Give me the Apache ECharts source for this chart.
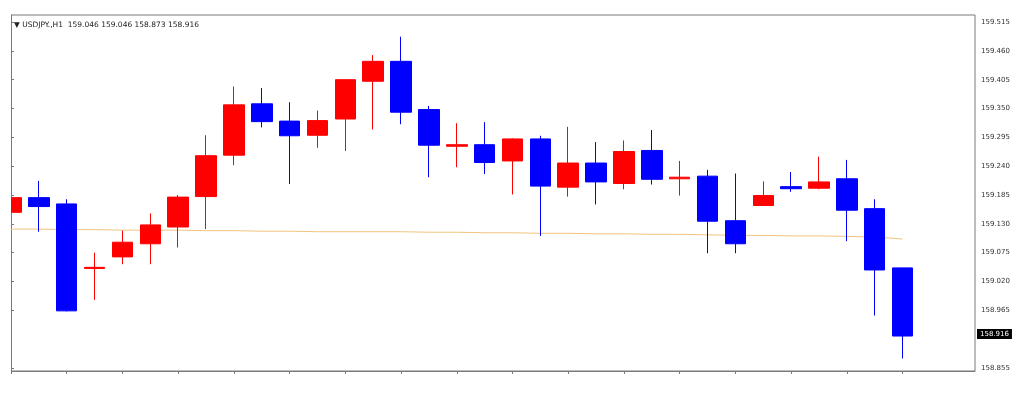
<!DOCTYPE html>
<html>
<head>
<meta charset="utf-8">
<script src="https://cdn.jsdelivr.net/npm/echarts@6/dist/echarts.min.js"></script>
<style>
html,body{margin:0;padding:0;background:#fff;}
#chart{width:1024px;height:402px;}
</style>
</head>
<body>
<div id="chart"></div>
<script>
// H1 candles, index 0..32
const opens  = [159.152,159.180,159.168,159.045,159.067,159.092,159.124,159.182,159.261,159.359,159.326,159.299,159.330,159.402,159.440,159.348,159.278,159.281,159.250,159.292,159.200,159.246,159.207,159.270,159.216,159.221,159.136,159.165,159.201,159.198,159.216,159.159,159.046];
const closes = [159.180,159.163,158.964,159.047,159.095,159.128,159.181,159.260,159.357,159.325,159.298,159.327,159.405,159.440,159.343,159.280,159.281,159.247,159.292,159.202,159.246,159.210,159.268,159.215,159.219,159.135,159.092,159.184,159.197,159.210,159.156,159.042,158.916];
const lows   = [159.130,159.115,158.963,158.985,159.053,159.053,159.085,159.120,159.242,159.314,159.206,159.275,159.269,159.310,159.320,159.219,159.238,159.225,159.186,159.107,159.182,159.167,159.196,159.205,159.184,159.074,159.074,159.165,159.191,159.196,159.097,158.955,158.873];
const highs  = [159.207,159.212,159.177,159.075,159.117,159.150,159.185,159.299,159.392,159.389,159.362,159.346,159.406,159.452,159.487,159.355,159.322,159.324,159.293,159.298,159.315,159.286,159.289,159.309,159.250,159.233,159.226,159.211,159.229,159.258,159.252,159.177,159.046];
const maValues = [159.120,159.120,159.119,159.119,159.118,159.118,159.118,159.117,159.117,159.116,159.116,159.115,159.115,159.115,159.115,159.114,159.114,159.113,159.113,159.112,159.112,159.111,159.111,159.110,159.110,159.109,159.108,159.108,159.107,159.107,159.106,159.105,159.101];
const yTickValues = [158.855,158.965,159.020,159.075,159.130,159.185,159.240,159.295,159.350,159.405,159.460,159.515];
const xTickValues = [0,2,4,6,8,10,12,14,16,18,20,22,24,26,28,30,32];
const titleText = '\u25BC USDJPY.,H1  159.046 159.046 158.873 158.916';

const candleData = opens.map((o, i) => [i, o, closes[i], lows[i], highs[i]]);
const maData = maValues.map((v, i) => [i, v]);
const lastClose = closes[closes.length - 1];

const GRID = {left: 11, right: 49, top: 15, bottom: 31};
const BORDER = '#7a7a7a';

const chart = echarts.init(document.getElementById('chart'), null, {renderer: 'canvas'});
chart.setOption({
  animation: false,
  backgroundColor: '#ffffff',
  grid: {left: GRID.left, right: GRID.right, top: GRID.top, bottom: GRID.bottom, show: true, borderColor: BORDER, borderWidth: 1, backgroundColor: 'transparent'},
  graphic: [{
    type: 'rect', left: 0, top: 0, z: 100,
    shape: {width: GRID.left, height: 402},
    style: {fill: '#ffffff'}
  }, {
    type: 'text', left: 14, top: 21, z: 102,
    style: {text: titleText, fill: '#222', font: '7.5px "DejaVu Sans"'}
  }],
  xAxis: {
    type: 'value', min: 0, max: 34.6,
    axisLine: {show: true, lineStyle: {color: BORDER}},
    axisTick: {show: true, inside: false, length: 3, customValues: xTickValues, lineStyle: {color: BORDER}},
    axisLabel: {show: false, customValues: xTickValues},
    splitLine: {show: false}
  },
  yAxis: {
    type: 'value', position: 'right', min: 158.8493, max: 159.5284, scale: true,
    axisLine: {show: true, lineStyle: {color: BORDER}},
    axisTick: {show: true, inside: false, length: 3, customValues: yTickValues, lineStyle: {color: BORDER}},
    axisLabel: {show: true, customValues: yTickValues, margin: 6, color: '#333', fontFamily: 'DejaVu Sans', fontSize: 7,
      formatter: v => v.toFixed(3)},
    splitLine: {show: false}
  },
  series: [{
    type: 'candlestick',
    data: candleData,
    barWidth: 21,
    clip: true,
    itemStyle: {color: '#ff0000', color0: '#0000ff', borderColor: '#ff0000', borderColor0: '#0000ff', borderWidth: 1},
    markLine: {
      silent: true, symbol: ['none', 'none'],
      lineStyle: {color: 'rgba(0,0,0,0)', width: 1, type: 'solid'},
      label: {show: true, position: 'end', distance: 2, formatter: () => lastClose.toFixed(3), color: '#fff', backgroundColor: '#000',
        padding: [2, 3, 1, 3], fontFamily: 'DejaVu Sans', fontSize: 7},
      emphasis: {disabled: true},
      data: [{yAxis: lastClose}]
    }
  }, {
    type: 'line',
    data: maData,
    symbol: 'none',
    smooth: false,
    lineStyle: {color: '#f2c47e', width: 1},
    z: 1
  }]
});
</script>
</body>
</html>
